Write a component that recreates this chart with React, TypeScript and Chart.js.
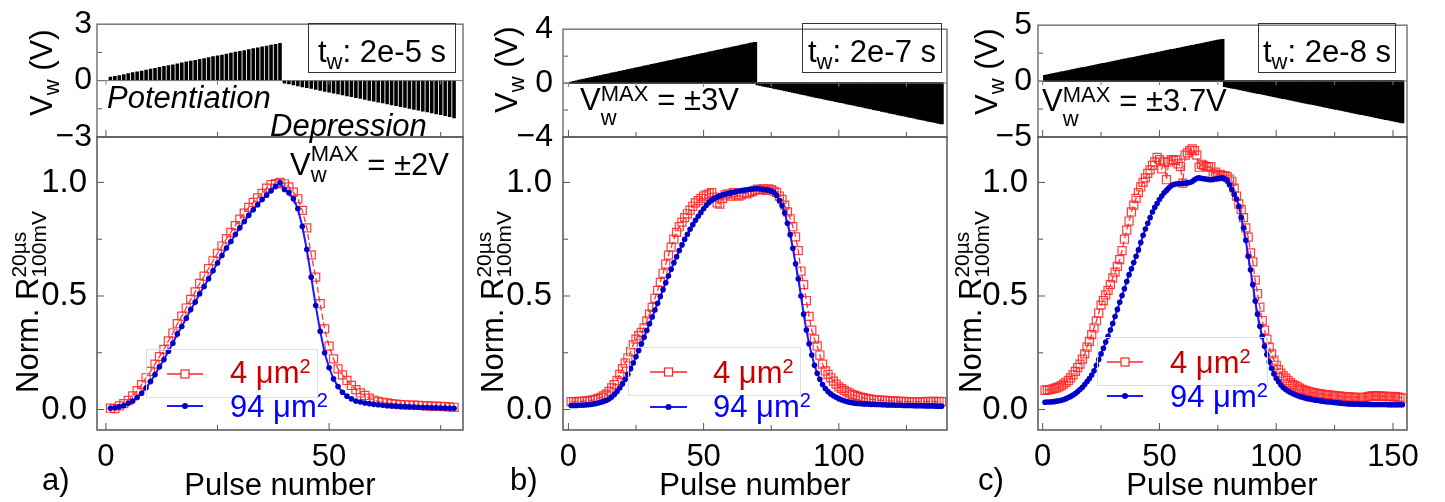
import React, { useEffect, useRef } from 'react';
import { Chart, registerables } from 'chart.js';

Chart.register(...registerables);

const W = 1445;
const H = 502;
const FONT = "'Liberation Sans', Arial, Helvetica, sans-serif";
const ASC = 0.8465;
const AXW = 60;
const XAH = 50;

// ---------- write-pulse amplitudes (V) ----------
const aPulsePot = [0.20,0.25,0.29,0.34,0.39,0.44,0.48,0.53,0.58,0.63,0.67,0.72,0.77,0.82,0.86,0.91,0.96,1.01,1.05,1.10,1.15,1.19,1.24,1.29,1.34,1.38,1.43,1.48,1.53,1.57,1.62,1.67,1.72,1.76,1.81,1.86,1.91,1.95,2.00];
const aPulseDep = [-0.15,-0.20,-0.25,-0.30,-0.35,-0.39,-0.44,-0.49,-0.54,-0.59,-0.63,-0.68,-0.73,-0.78,-0.83,-0.87,-0.92,-0.97,-1.02,-1.07,-1.11,-1.16,-1.21,-1.26,-1.31,-1.35,-1.40,-1.45,-1.50,-1.55,-1.59,-1.64,-1.69,-1.74,-1.79,-1.83,-1.88,-1.93,-2.00];
const bPulsePot = [0.05,0.09,0.14,0.18,0.22,0.27,0.31,0.35,0.40,0.44,0.48,0.53,0.57,0.61,0.66,0.70,0.74,0.79,0.83,0.87,0.92,0.96,1.00,1.05,1.09,1.13,1.18,1.22,1.26,1.31,1.35,1.39,1.44,1.48,1.52,1.57,1.61,1.65,1.70,1.74,1.78,1.83,1.87,1.91,1.96,2.00,2.04,2.09,2.13,2.17,2.22,2.26,2.30,2.35,2.39,2.43,2.48,2.52,2.56,2.61,2.65,2.69,2.74,2.78,2.82,2.87,2.91,2.96,3.00];
const bPulseDep = [-0.10,-0.14,-0.19,-0.23,-0.27,-0.31,-0.36,-0.40,-0.44,-0.48,-0.53,-0.57,-0.61,-0.65,-0.70,-0.74,-0.78,-0.82,-0.87,-0.91,-0.95,-1.00,-1.04,-1.08,-1.12,-1.17,-1.21,-1.25,-1.29,-1.34,-1.38,-1.42,-1.46,-1.51,-1.55,-1.59,-1.63,-1.68,-1.72,-1.76,-1.81,-1.85,-1.89,-1.93,-1.98,-2.02,-2.06,-2.10,-2.15,-2.19,-2.23,-2.27,-2.32,-2.36,-2.40,-2.44,-2.49,-2.53,-2.57,-2.62,-2.66,-2.70,-2.74,-2.79,-2.83,-2.87,-2.91,-2.96,-3.00];
const cPulsePot = [0.48,0.52,0.56,0.61,0.65,0.69,0.73,0.78,0.82,0.86,0.90,0.95,0.99,1.03,1.07,1.12,1.16,1.20,1.24,1.28,1.33,1.37,1.41,1.45,1.50,1.54,1.58,1.62,1.67,1.71,1.75,1.79,1.84,1.88,1.92,1.96,2.01,2.05,2.09,2.13,2.17,2.22,2.26,2.30,2.34,2.39,2.43,2.47,2.51,2.56,2.60,2.64,2.68,2.73,2.77,2.81,2.85,2.90,2.94,2.98,3.02,3.07,3.11,3.15,3.19,3.24,3.28,3.32,3.36,3.41,3.45,3.49,3.53,3.58,3.62,3.66,3.70];
const cPulseDep = [-0.45,-0.49,-0.54,-0.58,-0.62,-0.66,-0.71,-0.75,-0.79,-0.83,-0.88,-0.92,-0.96,-1.01,-1.05,-1.09,-1.13,-1.18,-1.22,-1.26,-1.30,-1.35,-1.39,-1.43,-1.48,-1.52,-1.56,-1.60,-1.65,-1.69,-1.73,-1.77,-1.82,-1.86,-1.90,-1.95,-1.99,-2.03,-2.07,-2.12,-2.16,-2.20,-2.24,-2.29,-2.33,-2.37,-2.42,-2.46,-2.50,-2.54,-2.59,-2.63,-2.67,-2.71,-2.76,-2.80,-2.84,-2.89,-2.93,-2.97,-3.01,-3.06,-3.10,-3.14,-3.19,-3.23,-3.27,-3.31,-3.36,-3.40,-3.44,-3.48,-3.53,-3.57,-3.61,-3.66,-3.70];

// ---------- normalized resistance, pulse 1..N ----------
const a94 = [0.006,0.008,0.012,0.018,0.028,0.038,0.053,0.072,0.096,0.123,0.154,0.188,0.22,0.257,0.292,0.333,0.366,0.402,0.44,0.473,0.51,0.542,0.576,0.611,0.645,0.678,0.711,0.74,0.771,0.8,0.828,0.855,0.88,0.902,0.925,0.944,0.963,0.982,1.0,
  0.969,0.955,0.928,0.884,0.806,0.705,0.583,0.458,0.345,0.25,0.184,0.135,0.101,0.076,0.059,0.047,0.038,0.033,0.029,0.026,0.023,0.021,0.019,0.017,0.016,0.015,0.014,0.013,0.012,0.011,0.01,0.009,0.009,0.008,0.008,0.007,0.007,0.006,0.006];
const a4 = [0.006,0.004,0.016,0.026,0.04,0.06,0.083,0.11,0.14,0.168,0.2,0.233,0.265,0.302,0.337,0.378,0.411,0.447,0.485,0.518,0.555,0.587,0.62,0.655,0.688,0.72,0.752,0.78,0.81,0.838,0.865,0.89,0.912,0.932,0.952,0.975,0.99,0.995,1.0,
  0.994,0.98,0.957,0.928,0.877,0.8,0.681,0.583,0.466,0.355,0.279,0.223,0.179,0.153,0.128,0.106,0.088,0.073,0.062,0.05,0.042,0.036,0.032,0.029,0.026,0.024,0.022,0.021,0.02,0.019,0.018,0.017,0.016,0.015,0.015,0.014,0.013,0.012,0.01];
const b94 = [0.018,0.018,0.018,0.019,0.019,0.02,0.021,0.022,0.024,0.026,0.029,0.032,0.036,0.04,0.046,0.055,0.066,0.08,0.095,0.113,0.133,0.155,0.18,0.205,0.232,0.26,0.289,0.318,0.348,0.378,0.408,0.438,0.468,0.498,0.528,0.558,0.588,0.618,0.646,0.673,0.7,0.725,0.75,0.772,0.794,0.814,0.833,0.851,0.868,0.884,0.899,0.912,0.922,0.93,0.936,0.941,0.945,0.948,0.951,0.954,0.957,0.96,0.962,0.964,0.966,0.968,0.97,0.971,0.972,
  0.972,0.971,0.969,0.968,0.966,0.962,0.957,0.943,0.92,0.898,0.866,0.82,0.77,0.71,0.642,0.576,0.5,0.42,0.35,0.29,0.24,0.195,0.16,0.133,0.11,0.093,0.079,0.069,0.061,0.054,0.048,0.043,0.039,0.035,0.032,0.03,0.028,0.027,0.026,0.025,0.025,0.024,0.023,0.023,0.022,0.022,0.021,0.021,0.02,0.02,0.02,0.019,0.019,0.019,0.018,0.018,0.018,0.018,0.017,0.017,0.017,0.017,0.016,0.016,0.016,0.016,0.015,0.015,0.015];
const b4 = [0.035,0.035,0.035,0.036,0.036,0.037,0.038,0.04,0.042,0.045,0.049,0.054,0.06,0.068,0.08,0.095,0.11,0.128,0.155,0.18,0.205,0.228,0.255,0.285,0.31,0.325,0.34,0.36,0.39,0.42,0.45,0.49,0.525,0.56,0.6,0.64,0.68,0.715,0.75,0.78,0.805,0.825,0.845,0.862,0.878,0.895,0.91,0.92,0.93,0.94,0.945,0.95,0.955,0.935,0.91,0.905,0.93,0.945,0.95,0.94,0.955,0.945,0.94,0.945,0.955,0.95,0.955,0.96,0.965,
  0.97,0.968,0.972,0.965,0.972,0.968,0.962,0.955,0.94,0.925,0.9,0.87,0.84,0.805,0.76,0.7,0.61,0.55,0.48,0.41,0.35,0.31,0.28,0.24,0.2,0.17,0.155,0.14,0.125,0.112,0.1,0.092,0.084,0.078,0.072,0.066,0.062,0.058,0.055,0.052,0.049,0.047,0.045,0.044,0.042,0.041,0.04,0.04,0.039,0.038,0.038,0.037,0.036,0.036,0.036,0.035,0.035,0.035,0.035,0.035,0.034,0.035,0.035,0.036,0.035,0.036,0.035,0.036,0.035];
const c94 = [0.032,0.033,0.033,0.034,0.035,0.037,0.039,0.041,0.044,0.048,0.053,0.058,0.064,0.071,0.079,0.088,0.098,0.11,0.123,0.137,0.152,0.171,0.195,0.22,0.245,0.27,0.297,0.323,0.35,0.379,0.41,0.441,0.472,0.502,0.532,0.564,0.594,0.62,0.647,0.675,0.703,0.735,0.767,0.795,0.82,0.845,0.87,0.89,0.907,0.925,0.94,0.954,0.965,0.975,0.985,0.991,0.993,0.994,0.995,0.996,0.997,0.998,1.0,1.004,1.012,1.018,1.02,1.018,1.016,1.015,1.013,1.012,1.013,1.015,1.016,1.018,1.02,
  1.015,1.008,0.99,0.97,0.948,0.927,0.895,0.846,0.8,0.745,0.675,0.615,0.55,0.478,0.42,0.367,0.322,0.279,0.242,0.21,0.182,0.157,0.138,0.122,0.108,0.097,0.089,0.082,0.076,0.071,0.066,0.062,0.058,0.055,0.052,0.049,0.047,0.045,0.043,0.041,0.04,0.038,0.037,0.035,0.034,0.033,0.032,0.031,0.03,0.029,0.028,0.027,0.026,0.025,0.025,0.024,0.024,0.024,0.023,0.023,0.023,0.023,0.022,0.022,0.022,0.022,0.022,0.022,0.022,0.022,0.021,0.021,0.021,0.021,0.021,0.021,0.021];
const c4 = [0.085,0.087,0.088,0.09,0.093,0.096,0.1,0.105,0.112,0.12,0.128,0.14,0.153,0.168,0.185,0.2,0.222,0.245,0.275,0.3,0.33,0.36,0.39,0.425,0.46,0.48,0.505,0.525,0.55,0.58,0.605,0.63,0.66,0.7,0.75,0.79,0.83,0.87,0.9,0.93,0.955,0.98,1.0,1.02,1.04,1.055,1.075,1.09,1.11,1.1,1.06,1.09,1.012,1.09,1.1,1.097,1.1,1.082,1.07,0.997,1.12,1.13,1.14,1.148,1.14,1.12,1.067,1.08,1.075,1.07,1.067,1.07,1.038,1.045,1.03,1.035,1.03,
  1.03,1.025,1.015,1.005,0.975,0.94,0.905,0.88,0.845,0.8,0.759,0.69,0.65,0.57,0.51,0.451,0.392,0.35,0.31,0.275,0.245,0.218,0.195,0.176,0.16,0.148,0.138,0.128,0.119,0.111,0.105,0.1,0.094,0.089,0.085,0.082,0.079,0.076,0.074,0.072,0.07,0.069,0.067,0.066,0.065,0.063,0.062,0.061,0.06,0.059,0.058,0.057,0.056,0.055,0.055,0.054,0.054,0.054,0.053,0.053,0.054,0.056,0.058,0.06,0.06,0.059,0.06,0.058,0.059,0.058,0.057,0.058,0.056,0.057,0.055,0.054,0.05];

// ---------- ticks ----------
const aXTicks = [0, 50];
const aXMinor = [25, 75];
const bXTicks = [0, 50, 100];
const bXMinor = [25, 75, 125];
const cXTicks = [0, 50, 100, 150];
const cXMinor = [25, 75, 125];
const normTicks = [0, 0.5, 1.0];
const normMinor = [0.25, 0.75];
const aVTicks = [-3, 0, 3];
const aVMinor = [-1.5, 1.5];
const bVTicks = [-4, 0, 4];
const bVMinor = [-2, 2];
const cVTicks = [-5, 0, 5];
const cVMinor = [-2.5, 2.5];

const signed = (v: number) => (v < 0 ? '\u2212' + Math.abs(v) : String(v));
const pts = (arr: number[], start = 1) => arr.map((v, i) => ({ x: i + start, y: v }));

type Area = { left: number; right: number; top: number; bottom: number };

function frame(xMajor: number[], xMinor: number[], yMajor: number[], yMinor: number[], box: string, zero: boolean) {
  return {
    id: 'frame',
    afterDatasetsDraw(chart: any) {
      const { ctx, chartArea: a } = chart;
      const xs = chart.scales.x;
      const ys = chart.scales.y;
      const seg = (x1: number, y1: number, x2: number, y2: number) => {
        ctx.beginPath(); ctx.moveTo(x1, y1); ctx.lineTo(x2, y2); ctx.stroke();
      };
      ctx.save();
      ctx.strokeStyle = '#555';
      ctx.lineWidth = 1;
      xMajor.forEach((v) => { const x = xs.getPixelForValue(v); seg(x, a.bottom, x, a.bottom - 7); });
      xMinor.forEach((v) => { const x = xs.getPixelForValue(v); seg(x, a.bottom, x, a.bottom - 5); });
      yMajor.forEach((v) => { const y = ys.getPixelForValue(v); seg(a.left, y, a.left + 7, y); });
      yMinor.forEach((v) => { const y = ys.getPixelForValue(v); seg(a.left, y, a.left + 5, y); });
      if (zero) {
        const y0 = ys.getPixelForValue(0);
        ctx.strokeStyle = '#777';
        seg(a.left, y0, a.right, y0);
        xMajor.concat(xMinor).forEach((v) => { const x = xs.getPixelForValue(v); seg(x, y0, x, y0 + 4); });
      }
      ctx.strokeStyle = box;
      ctx.lineWidth = 1.5;
      ctx.strokeRect(a.left, a.top, a.right - a.left, a.bottom - a.top);
      ctx.restore();
    },
  };
}

function topChart(pot: number[], dep: number[], area: Area, xMin: number, xMax: number, vTicks: number[], vMinor: number[], xMajor: number[], xMinor: number[], labelPad: number, barPct: number, inflate: any) {
  const lim = Math.max(...vTicks);
  return {
    type: 'bar',
    data: {
      datasets: [{
        data: pts(pot.concat(dep)),
        backgroundColor: '#000',
        borderWidth: 0,
        barPercentage: barPct,
        categoryPercentage: 1,
        inflateAmount: inflate,
      }],
    },
    options: {
      responsive: false, animation: false, events: [],
      layout: { autoPadding: false, padding: { left: area.left - AXW, right: W - area.right, top: area.top, bottom: H - area.bottom } },
      plugins: { legend: { display: false }, tooltip: { enabled: false } },
      scales: {
        x: { type: 'linear', min: xMin, max: xMax, offset: false, display: false },
        y: {
          type: 'linear', min: -lim, max: lim,
          grid: { display: false, drawTicks: false }, border: { display: false },
          afterFit: (s: any) => { s.width = AXW; },
          afterBuildTicks: (s: any) => { s.ticks = vTicks.map((v) => ({ value: v })); },
          ticks: { padding: labelPad, color: '#000', font: { family: FONT, size: 32 }, callback: (v: any) => signed(Number(v)) },
        },
      },
    },
    plugins: [frame(xMajor, xMinor, [0], vMinor, '#777', true)],
  };
}

function bottomChart(s4: number[], s94: number[], area: Area, xMin: number, xMax: number, xMajor: number[], xMinor: number[], labelPad: number) {
  return {
    type: 'line',
    data: {
      datasets: [
        { label: '94 µm²', data: pts(s94), borderColor: '#1a1aff', borderWidth: 2, pointRadius: 2.8, pointBackgroundColor: '#0000c8', pointBorderWidth: 0, tension: 0, fill: false },
        { label: '4 µm²', data: pts(s4), borderColor: 'rgba(255,30,30,0.9)', borderWidth: 1.3, borderDash: [6, 3], pointStyle: 'rect', pointRadius: 5.7, pointBorderColor: 'rgba(255,40,40,0.9)', pointBackgroundColor: 'rgba(255,255,255,0)', pointBorderWidth: 1.2, tension: 0, fill: false },
      ],
    },
    options: {
      responsive: false, animation: false, events: [],
      layout: { autoPadding: false, padding: { left: area.left - AXW, right: W - area.right, top: area.top, bottom: H - area.bottom - XAH } },
      plugins: { legend: { display: false }, tooltip: { enabled: false } },
      scales: {
        x: {
          type: 'linear', min: xMin, max: xMax,
          grid: { display: false, drawTicks: false }, border: { display: false },
          afterFit: (s: any) => { s.height = XAH; },
          afterBuildTicks: (s: any) => { s.ticks = xMajor.map((v) => ({ value: v })); },
          ticks: { padding: 9, color: '#000', maxRotation: 0, autoSkip: false, font: { family: FONT, size: 31 }, callback: (v: any) => String(v) },
        },
        y: {
          type: 'linear', min: -0.09, max: 1.2,
          grid: { display: false, drawTicks: false }, border: { display: false },
          afterFit: (s: any) => { s.width = AXW; },
          afterBuildTicks: (s: any) => { s.ticks = normTicks.map((v) => ({ value: v })); },
          ticks: { padding: labelPad, color: '#000', font: { family: FONT, size: 33 }, callback: (v: any) => Number(v).toFixed(1) },
        },
      },
    },
    plugins: [frame(xMajor, xMinor, normTicks, normMinor, '#555', false)],
  };
}

function ChartCanvas({ make }: { make: () => any }) {
  const ref = useRef<HTMLCanvasElement>(null);
  useEffect(() => {
    const c = new Chart(ref.current as HTMLCanvasElement, make());
    return () => c.destroy();
  }, []);
  return <canvas ref={ref} width={W} height={H} style={{ position: 'absolute', left: 0, top: 0, width: W, height: H }} />;
}

function Txt({ x, base, size = 31, color = '#000', italic = false, center = false, children }: any) {
  const style: any = {
    position: 'absolute', top: base - ASC * size, left: x, fontFamily: FONT, fontSize: size,
    lineHeight: 1, color, whiteSpace: 'nowrap', fontStyle: italic ? 'italic' : 'normal',
  };
  if (center) style.transform = 'translateX(-50%)';
  return <div style={style}>{children}</div>;
}

// stacked super/subscript placed relative to the current baseline
function Scr({ sup, sub, size = 22, w, rise = 13, drop = 8 }: any) {
  return (
    <span style={{ position: 'relative', display: 'inline-block', width: w, height: 0 }}>
      {sup ? <span style={{ position: 'absolute', left: 0, top: -rise - ASC * size, fontSize: size, lineHeight: 1 }}>{sup}</span> : null}
      {sub ? <span style={{ position: 'absolute', left: 0, top: drop - ASC * size, fontSize: size, lineHeight: 1 }}>{sub}</span> : null}
    </span>
  );
}

function Rot({ x, y, children }: any) {
  return (
    <div style={{ position: 'absolute', left: x - ASC * 31, top: y, transformOrigin: '0 0', transform: 'rotate(-90deg)', fontFamily: FONT, fontSize: 31, lineHeight: 1, whiteSpace: 'nowrap', color: '#000' }}>
      {children}
    </div>
  );
}

function Box({ x, y, w, h }: any) {
  return <div style={{ position: 'absolute', left: x, top: y, width: w, height: h, border: '1.5px solid #333', boxSizing: 'border-box' }} />;
}

function LegendMarks({ bx, by, bw, bh, x1, x2, yR, yB }: any) {
  const xm = (x1 + x2) / 2;
  return (
    <g>
      <rect x={bx + 0.5} y={by + 0.5} width={bw} height={bh} fill="none" stroke="#dedede" strokeWidth={1} />
      <line x1={x1} y1={yR} x2={xm - 4} y2={yR} stroke="#ff2424" strokeWidth={1.5} />
      <line x1={xm + 4} y1={yR} x2={x2} y2={yR} stroke="#ff2424" strokeWidth={1.5} />
      <rect x={xm - 4} y={yR - 4} width={8} height={8} fill="none" stroke="#ff2424" strokeWidth={1.2} />
      <line x1={x1} y1={yB} x2={x2} y2={yB} stroke="#1a1aff" strokeWidth={2} />
      <circle cx={xm} cy={yB} r={3} fill="#0000c8" />
    </g>
  );
}

const RED_T = '#c80000';
const BLUE_T = '#0000ff';

const aTop: Area = { left: 97, right: 463, top: 20, bottom: 137 };
const aBot: Area = { left: 97, right: 463, top: 137, bottom: 430 };
const bTop: Area = { left: 563, right: 947, top: 20, bottom: 137 };
const bBot: Area = { left: 563, right: 947, top: 137, bottom: 430 };
const cTop: Area = { left: 1038, right: 1407, top: 19, bottom: 137 };
const cBot: Area = { left: 1038, right: 1407, top: 137, bottom: 430 };

export default function App() {
  return (
    <div style={{ position: 'absolute', left: 0, top: 0, width: W, height: H, background: '#fff', overflow: 'hidden' }}>
      <ChartCanvas make={() => topChart(aPulsePot, aPulseDep, aTop, -2, 80, aVTicks, aVMinor, aXTicks, aXMinor, 5, 0.8, 0)} />
      <ChartCanvas make={() => bottomChart(a4, a94, aBot, -2, 80, aXTicks, aXMinor, 10)} />
      <ChartCanvas make={() => topChart(bPulsePot, bPulseDep, bTop, -2, 140, bVTicks, bVMinor, bXTicks, bXMinor, 10, 1, 0.8)} />
      <ChartCanvas make={() => bottomChart(b4, b94, bBot, -2, 140, bXTicks, bXMinor, 11)} />
      <ChartCanvas make={() => topChart(cPulsePot, cPulseDep, cTop, -2, 156, cVTicks, cVMinor, cXTicks, cXMinor, 6, 1, 0.8)} />
      <ChartCanvas make={() => bottomChart(c4, c94, cBot, -2, 156, cXTicks, cXMinor, 10)} />

      <svg width={W} height={H} style={{ position: 'absolute', left: 0, top: 0 }}>
        <LegendMarks bx={146} by={349} bw={171} bh={48} x1={167} x2={203} yR={374} yB={406} />
        <LegendMarks bx={628} by={347} bw={172} bh={48} x1={650} x2={687} yR={372} yB={407} />
        <LegendMarks bx={1097} by={337} bw={170} bh={48} x1={1107} x2={1143} yR={362} yB={396} />
      </svg>

      {/* panel a */}
      <Rot x={52} y={116}>V<Scr sub="w" w={16} />&nbsp;(V)</Rot>
      <Rot x={38} y={393}>Norm. R<Scr sup="20µs" sub="100mV" size={21} w={67} rise={12} drop={8} /></Rot>
      <Box x={308} y={23} w={148} h={50} />
      <Txt x={382} base={62} center>t<Scr sub="w" w={16} />: 2e-5 s</Txt>
      <Txt x={107} base={108} italic>Potentiation</Txt>
      <Txt x={270} base={136} italic>Depression</Txt>
      <Txt x={290} base={175}>V<Scr sup="MAX" sub="w" w={48} rise={13} drop={8} /> = ±2V</Txt>
      <Txt x={230} base={383} color={RED_T}>4 μm<Scr sup="2" size={20} w={12} rise={10} /></Txt>
      <Txt x={230} base={417} color={BLUE_T}>94 μm<Scr sup="2" size={20} w={12} rise={10} /></Txt>
      <Txt x={280} base={495} center>Pulse number</Txt>
      <Txt x={42} base={490}>a)</Txt>

      {/* panel b */}
      <Rot x={517} y={113}>V<Scr sub="w" w={16} />&nbsp;(V)</Rot>
      <Rot x={503} y={393}>Norm. R<Scr sup="20µs" sub="100mV" size={21} w={67} rise={12} drop={8} /></Rot>
      <Box x={802} y={23} w={140} h={50} />
      <Txt x={872} base={62} center>t<Scr sub="w" w={16} />: 2e-7 s</Txt>
      <Txt x={580} base={110}>V<Scr sup="MAX" sub="w" w={48} rise={8} drop={16} /> = ±3V</Txt>
      <Txt x={713} base={383} color={RED_T}>4 μm<Scr sup="2" size={20} w={12} rise={10} /></Txt>
      <Txt x={713} base={417} color={BLUE_T}>94 μm<Scr sup="2" size={20} w={12} rise={10} /></Txt>
      <Txt x={755} base={495} center>Pulse number</Txt>
      <Txt x={510} base={490}>b)</Txt>

      {/* panel c */}
      <Rot x={997} y={115}>V<Scr sub="w" w={16} />&nbsp;(V)</Rot>
      <Rot x={981} y={393}>Norm. R<Scr sup="20µs" sub="100mV" size={21} w={67} rise={12} drop={8} /></Rot>
      <Box x={1258} y={23} w={138} h={50} />
      <Txt x={1327} base={62} center>t<Scr sub="w" w={16} />: 2e-8 s</Txt>
      <Txt x={1042} base={111}>V<Scr sup="MAX" sub="w" w={48} rise={8} drop={16} /> = ±3.7V</Txt>
      <Txt x={1170} base={373} color={RED_T}>4 μm<Scr sup="2" size={20} w={12} rise={10} /></Txt>
      <Txt x={1170} base={407} color={BLUE_T}>94 μm<Scr sup="2" size={20} w={12} rise={10} /></Txt>
      <Txt x={1222} base={495} center>Pulse number</Txt>
      <Txt x={978} base={490}>c)</Txt>
    </div>
  );
}
